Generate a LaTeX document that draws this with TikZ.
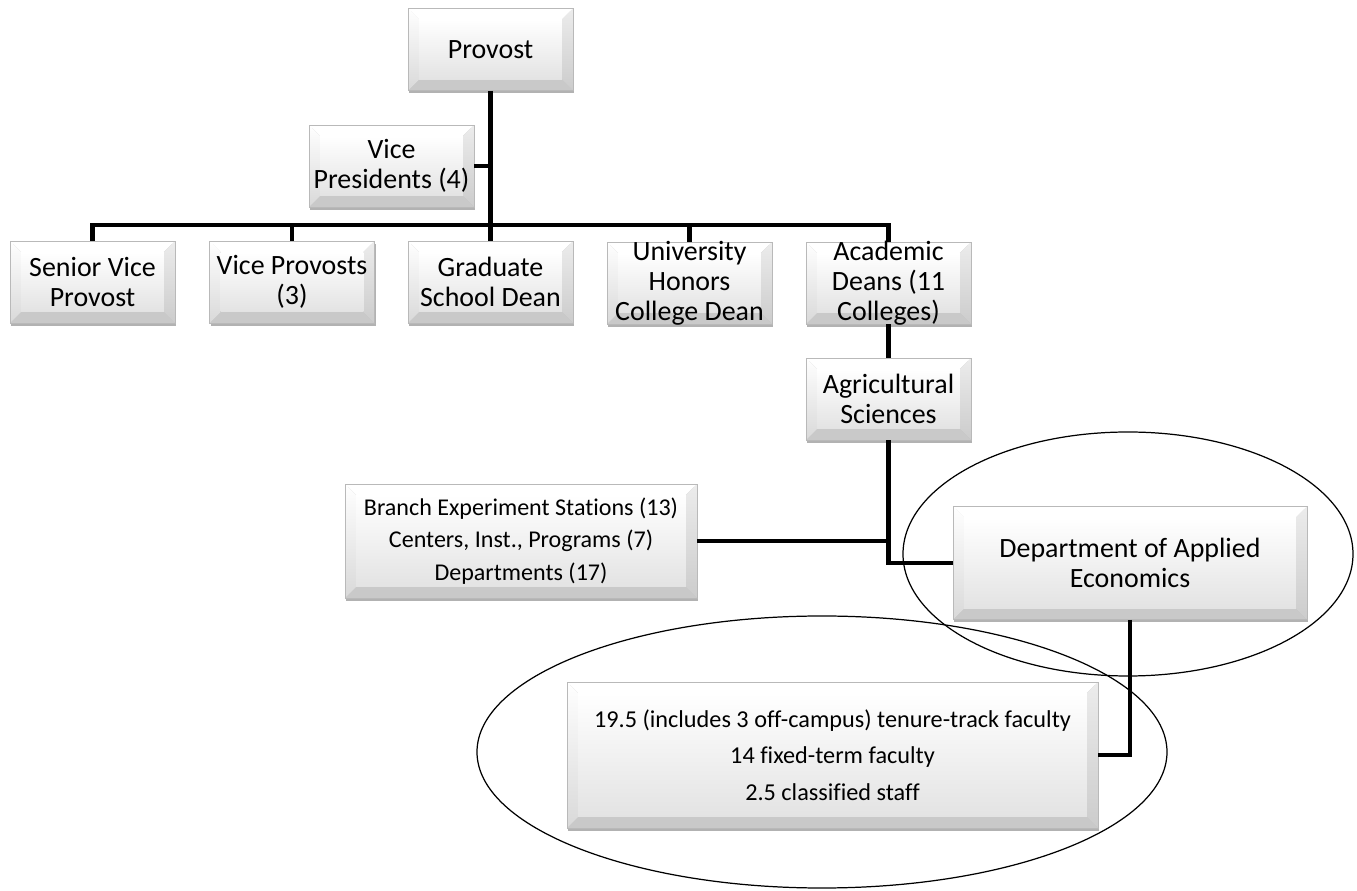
\documentclass[tikz,border=0pt]{standalone}
\usepackage{fontspec}
\setmainfont{Carlito}[Ligatures=NoCommon]
\usetikzlibrary{shadows}

\def\bevw{0.22cm}

\tikzset{
  bevelbox/.style={draw=gray!55, line width=0.5pt, align=center,
    inner xsep=2pt, inner ysep=0pt,
    minimum width=3.3cm, minimum height=1.64cm,
    font=\fontsize{15.9}{17}\selectfont,
    drop shadow={shadow xshift=0.6pt, shadow yshift=-1.6pt, opacity=0.3, fill=black},
    path picture={
      \coordinate (bsw) at (path picture bounding box.south west);
      \coordinate (bne) at (path picture bounding box.north east);
      \coordinate (bnw) at (bsw |- bne);
      \coordinate (bse) at (bne |- bsw);
      \fill[white] (bnw) -- (bne) -- ([shift={(-\bevw,-\bevw)}]bne) -- ([shift={(\bevw,-\bevw)}]bnw) -- cycle;
      \fill[gray!42] (bsw) -- (bse) -- ([shift={(-\bevw,\bevw)}]bse) -- ([shift={(\bevw,\bevw)}]bsw) -- cycle;
      \shade[top color=white, bottom color=gray!30] (bsw) -- (bnw) -- ([shift={(\bevw,-\bevw)}]bnw) -- ([shift={(\bevw,\bevw)}]bsw) -- cycle;
      \shade[top color=gray!15, bottom color=gray!40] (bse) -- (bne) -- ([shift={(-\bevw,-\bevw)}]bne) -- ([shift={(-\bevw,\bevw)}]bse) -- cycle;
      \shade[top color=white, bottom color=gray!22] ([shift={(\bevw,\bevw)}]bsw) rectangle ([shift={(-\bevw,-\bevw)}]bne);
    }},
  tallbox/.style={bevelbox, inner ysep=-4pt},
  bigbox/.style={bevelbox, font=\fontsize{13.7}{18.7}\selectfont},
  link/.style={line width=2.7pt},
  ring/.style={line width=0.7pt}
}

\begin{document}
\begin{tikzpicture}[x=0.02cm, y=-0.02cm]
\useasboundingbox (0,0) rectangle (1357,891);

% top of the chart
\node[bevelbox] (prov) at (490.5,49.5) {Provost};
\node[bevelbox] (vp) at (391.5,166) {Vice\\Presidents (4)};

% second row
\node[bevelbox] (svp) at (92.5,282) {Senior Vice\\Provost};
\node[bevelbox] (vprov) at (292,282) {Vice Provosts\\(3)};
\node[bevelbox] (grad) at (490.5,282) {Graduate\\School Dean};
\node[tallbox] (honors) at (689.5,283) {University\\Honors\\College Dean};
\node[tallbox] (deans) at (888.5,283) {Academic\\Deans (11\\Colleges)};

% college and department
\node[bevelbox] (agri) at (888.5,399) {Agricultural\\Sciences};
\node[bigbox, minimum width=7.04cm, minimum height=2.28cm] (branch) at (521,541)
  {Branch Experiment Stations (13)\\Centers, Inst., Programs (7)\\Departments (17)};
\node[bevelbox, minimum width=7.08cm, minimum height=2.26cm] (dept) at (1130,563)
  {Department of Applied\\Economics};
\node[bigbox, font=\fontsize{13.8}{20.7}\selectfont, minimum width=10.62cm, minimum height=2.92cm] (staff) at (832.5,755)
  {19.5 (includes 3 off-campus) tenure-track faculty\\14 fixed-term faculty\\2.5 classified staff};

% connectors
\coordinate (bar) at (0,225);
\draw[link] (prov.south) -- (grad.north);
\draw[link] (vp.east) -- (vp.east -| prov.south);
\draw[link] (svp.north) -- (svp.north |- bar) -- (deans.north |- bar) -- (deans.north);
\foreach \n in {vprov, honors} {
  \draw[link] (\n.north) -- (\n.north |- bar);
}
\draw[link] (deans.south) -- (agri.north);
\draw[link] (agri.south) |- (dept.west);
\draw[link] (branch.east) -- (branch.east -| agri.south);
\draw[link] (dept.south) |- (staff.east);

% highlight rings
\draw[ring] (1128,554) ellipse [x radius=225, y radius=122];
\draw[ring] (822,752) ellipse [x radius=345, y radius=136];

\end{tikzpicture}
\end{document}
